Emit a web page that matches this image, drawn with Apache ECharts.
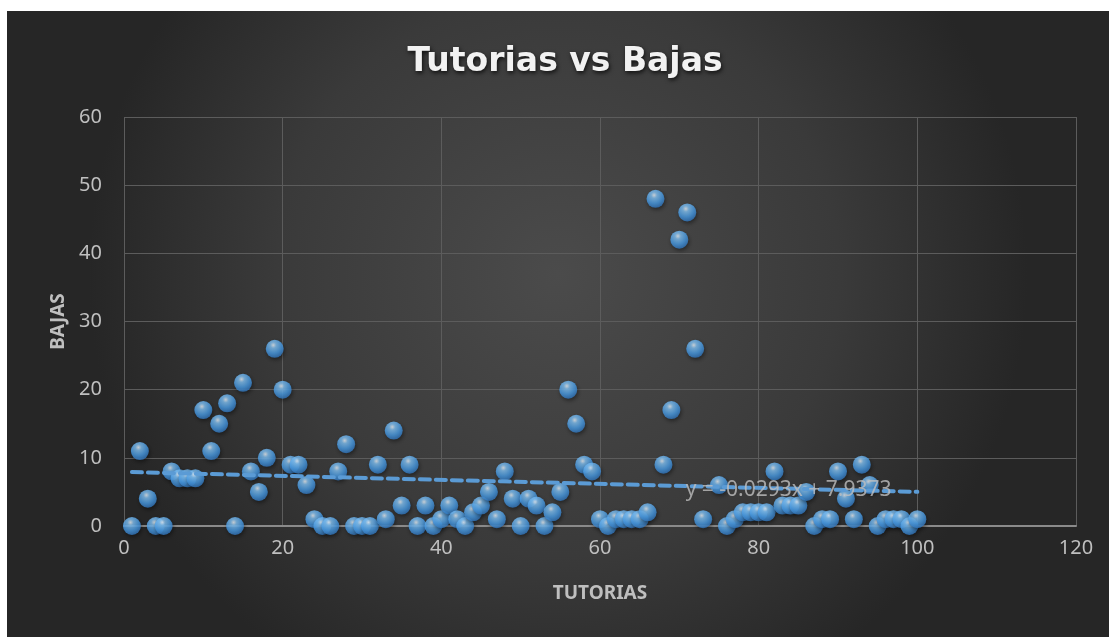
<!DOCTYPE html>
<html>
<head>
<meta charset="utf-8">
<script src="https://cdn.jsdelivr.net/npm/echarts@6/dist/echarts.min.js"></script>
<style>
html,body{margin:0;padding:0;background:#ffffff;width:1109px;height:637px;overflow:hidden;}
#chart{position:absolute;left:7px;top:11px;width:1102px;height:626px;}
</style>
</head>
<body>
<div id="chart"></div>
<script>
// Data
const tutorias = [1,2,3,4,5,6,7,8,9,10,11,12,13,14,15,16,17,18,19,20,
  21,22,23,24,25,26,27,28,29,30,31,32,33,34,35,36,37,38,39,40,
  41,42,43,44,45,46,47,48,49,50,51,52,53,54,55,56,57,58,59,60,
  61,62,63,64,65,66,67,68,69,70,71,72,73,75,76,77,78,79,80,
  81,82,83,84,85,86,87,88,89,90,91,92,93,94,95,96,97,98,99,100];
const bajas = [0,11,4,0,0,8,7,7,7,17,11,15,18,0,21,8,5,10,26,20,
  9,9,6,1,0,0,8,12,0,0,0,9,1,14,3,9,0,3,0,1,
  3,1,0,2,3,5,1,8,4,0,4,3,0,2,5,20,15,9,8,1,
  0,1,1,1,1,2,48,9,17,42,46,26,1,6,0,1,2,2,2,
  2,8,3,3,3,5,0,1,1,8,4,1,9,6,0,1,1,1,0,1];
const xTicks = {min:0, max:120, interval:20};
const yTicks = {min:0, max:60, interval:10};
const trendSlope = -0.0293;
const trendIntercept = 7.9373;
const trendRange = [1, 100];
const trendLabel = 'y = -0.0293x + 7.9373';
const trendLabelAt = [70.8, 5.3];
const titleText = 'Tutorias vs Bajas';
const xName = 'TUTORIAS';
const yName = 'BAJAS';

const points = tutorias.map((x, i) => [x, bajas[i]]);
const trendData = trendRange.map(x => [x, trendSlope * x + trendIntercept]);

const chart = echarts.init(document.getElementById('chart'), null, {renderer:'canvas'});
const labelColor = '#bfbfbf';
const font = '"Noto Sans", "Open Sans", sans-serif';

chart.setOption({
  animation: false,
  backgroundColor: {
    type: 'radial', x: 0.5, y: 0.42, r: 0.75,
    colorStops: [
      {offset: 0, color: '#4b4b4b'},
      {offset: 0.6, color: '#3a3a3a'},
      {offset: 1, color: '#262626'}
    ]
  },
  graphic: [{
    type: 'text', x: 558, y: 51,
    style: {
      text: titleText,
      font: 'bold 33px "DejaVu Sans", "Noto Sans", sans-serif',
      fill: '#f2f2f2', textAlign: 'center', textVerticalAlign: 'middle',
      textShadowColor: 'rgba(0,0,0,0.75)', textShadowBlur: 4,
      textShadowOffsetX: 1, textShadowOffsetY: 2
    }
  }],
  grid: {left: 117, top: 106, width: 952, height: 409, containLabel: false},
  xAxis: {
    type: 'value', min: xTicks.min, max: xTicks.max, interval: xTicks.interval,
    name: xName, nameLocation: 'middle', nameGap: 58,
    nameTextStyle: {color: labelColor, fontFamily: font, fontWeight: 'bold', fontSize: 19},
    axisLine: {show: true, onZero: false, lineStyle: {color: '#8a8a8a', width: 2}},
    axisTick: {show: false},
    axisLabel: {color: labelColor, fontFamily: font, fontSize: 20, margin: 12},
    splitLine: {show: true, lineStyle: {color: '#5c5c5c', width: 1}}
  },
  yAxis: {
    type: 'value', min: yTicks.min, max: yTicks.max, interval: yTicks.interval,
    name: yName, nameLocation: 'middle', nameGap: 54, nameRotate: 90,
    nameTextStyle: {color: labelColor, fontFamily: font, fontWeight: 'bold', fontSize: 19},
    axisLine: {show: false},
    axisTick: {show: false},
    axisLabel: {color: labelColor, fontFamily: font, fontSize: 20, margin: 22},
    splitLine: {show: true, lineStyle: {color: '#5c5c5c', width: 1}}
  },
  series: [
    {
      type: 'scatter', data: points, symbol: 'circle', symbolSize: 18, z: 3,
      itemStyle: {
        color: {
          type: 'radial', x: 0.42, y: 0.3, r: 0.75,
          colorStops: [
            {offset: 0, color: '#eef7ff'},
            {offset: 0.22, color: '#84c5f8'},
            {offset: 0.6, color: '#4c9fe8'},
            {offset: 1, color: '#2c6db3'}
          ]
        },
        shadowColor: 'rgba(0,0,0,0.55)', shadowBlur: 4, shadowOffsetX: 1, shadowOffsetY: 2
      }
    },
    {
      type: 'line', data: trendData, showSymbol: false, symbol: 'none', z: 4,
      lineStyle: {color: '#5b9bd5', width: 4, type: [10, 6], cap: 'round'}
    },
    {
      type: 'scatter', data: [trendLabelAt], symbolSize: 0, z: 5, silent: true,
      label: {
        show: true, position: 'right', distance: 0,
        formatter: trendLabel, color: labelColor, fontFamily: font, fontSize: 21
      }
    }
  ]
});
</script>
</body>
</html>
